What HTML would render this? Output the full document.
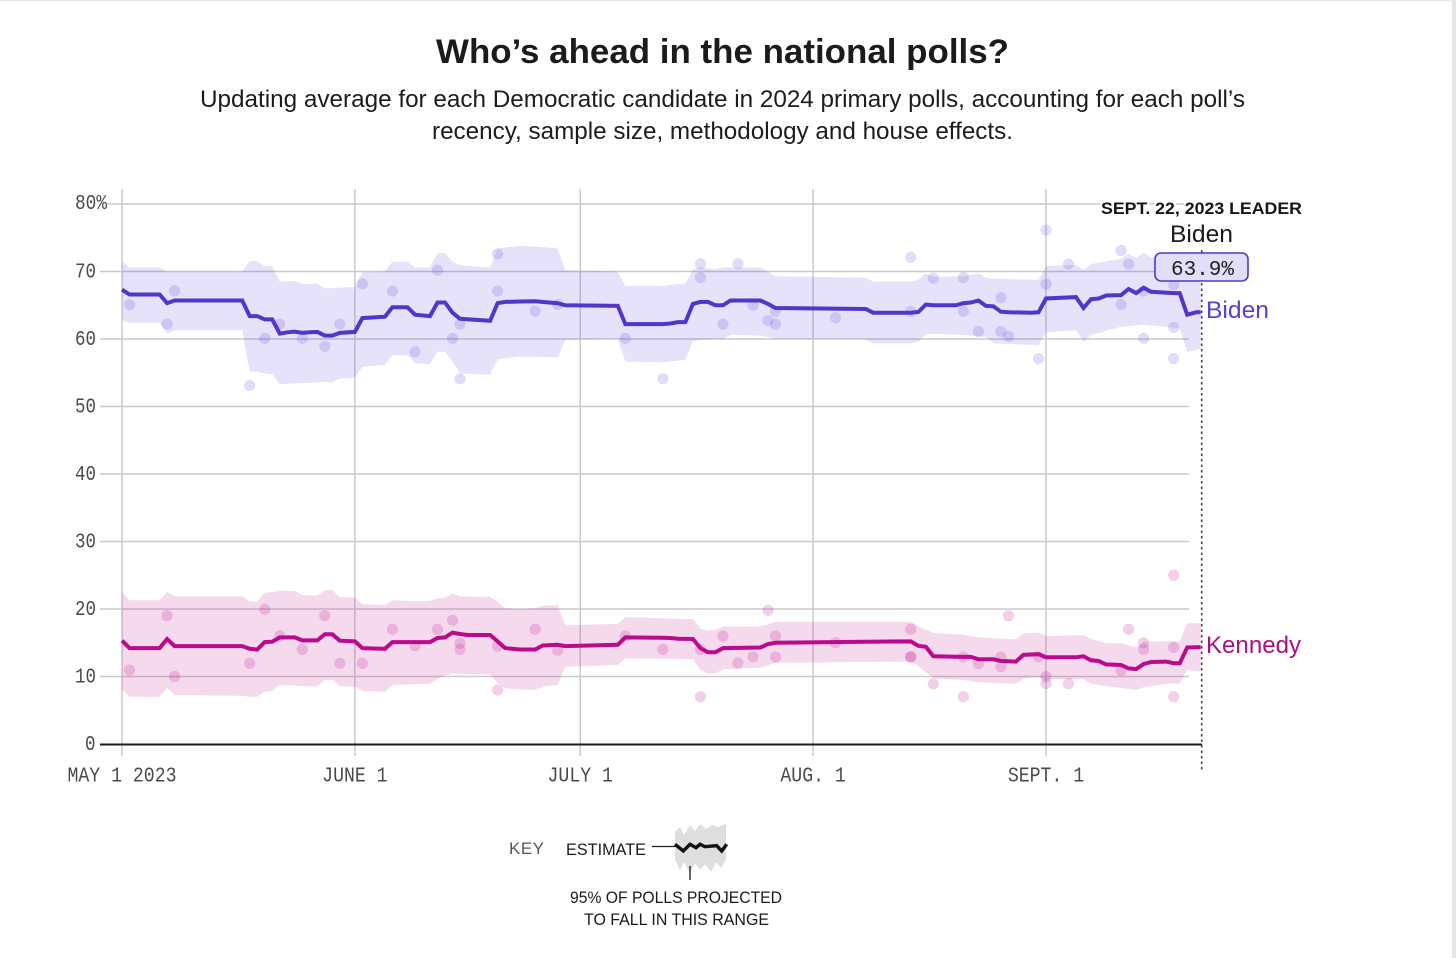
<!DOCTYPE html>
<html lang="en">
<head>
<meta charset="utf-8">
<title>Who's ahead in the national polls?</title>
<style>
html,body{margin:0;padding:0;background:#fff}
body{width:1456px;height:958px;overflow:hidden}
svg{display:block}
text{font-family:"Liberation Sans",sans-serif}
.mono{font-family:"Liberation Mono",monospace;font-size:21px;fill:#4a4a4a}
</style>
</head>
<body>
<svg id="chart" xmlns="http://www.w3.org/2000/svg" width="1456" height="958" viewBox="0 0 1456 958">
<rect x="0" y="0" width="1456" height="958" fill="#fff"/>
<rect x="0" y="0" width="1456" height="1.5" fill="#e9e9e9"/>
<rect x="1452" y="0" width="4" height="958" fill="#e6e6e6"/>
<text x="722.5" y="63" text-anchor="middle" font-size="34" font-weight="700" fill="#1c1a1a" textLength="573" lengthAdjust="spacingAndGlyphs">Who’s ahead in the national polls?</text>
<text x="722.5" y="107" text-anchor="middle" font-size="24" fill="#1c1c1c" textLength="1045" lengthAdjust="spacingAndGlyphs">Updating average for each Democratic candidate in 2024 primary polls, accounting for each poll’s</text>
<text x="722.5" y="139" text-anchor="middle" font-size="24" fill="#1c1c1c" textLength="581" lengthAdjust="spacingAndGlyphs">recency, sample size, methodology and house effects.</text>
<g id="grid"></g>
<g id="bands"></g>
<g id="polls"></g>
<g id="lines"></g>
<g id="axes"></g>
<line x1="1201.7" x2="1201.7" y1="250" y2="770" stroke="#444" stroke-width="1.6" stroke-dasharray="2.5 3"/>
<text x="1101" y="214" font-size="17" font-weight="700" fill="#161616" stroke="#fff" stroke-width="4" paint-order="stroke" textLength="201" lengthAdjust="spacingAndGlyphs">SEPT. 22, 2023 LEADER</text>
<text x="1170" y="242" font-size="24" fill="#1a1a1a" textLength="63" lengthAdjust="spacingAndGlyphs">Biden</text>
<rect x="1155" y="253" width="93" height="28" rx="6" fill="#e3def7" stroke="#5237c8" stroke-width="1.6"/>
<text class="mono" x="1171" y="275" style="fill:#1f1f1f" textLength="63" lengthAdjust="spacingAndGlyphs">63.9%</text>
<text x="1206" y="318" font-size="24" fill="#5a3fd0" textLength="63" lengthAdjust="spacingAndGlyphs">Biden</text>
<text x="1206" y="653" font-size="24" fill="#ae0f80" textLength="95" lengthAdjust="spacingAndGlyphs">Kennedy</text>
<g>
<text x="509" y="854" font-size="17" fill="#555" textLength="35" lengthAdjust="spacing">KEY</text>
<text x="566" y="855" font-size="17" fill="#1a1a1a" textLength="80" lengthAdjust="spacingAndGlyphs">ESTIMATE</text>
<line x1="652" x2="675" y1="846.5" y2="846.5" stroke="#222" stroke-width="1.2"/>
<polygon fill="#dedede" points="675,832 680,827 684,835 690,825 695,831 700,824 706,829 712,825 718,827 726,824 726,860 721,868 716,862 711,872 705,864 700,870 695,863 690,873 684,862 680,870 675,860"/>
<polyline fill="none" stroke="#111" stroke-width="3.4" points="675,844.3 683.3,851 690,844.3 696,847.7 700,844.3 705,846.7 716.7,845.7 721.7,851 726.7,844.3"/>
<line x1="690" x2="690" y1="866" y2="880" stroke="#222" stroke-width="1.4"/>
<text x="570" y="903" font-size="17" fill="#1a1a1a" textLength="212" lengthAdjust="spacingAndGlyphs">95% OF POLLS PROJECTED</text>
<text x="584" y="925" font-size="17" fill="#1a1a1a" textLength="185" lengthAdjust="spacingAndGlyphs">TO FALL IN THIS RANGE</text>
</g>
</svg>
<script>
// Values: [day since May 1 2023, percent]
const yTicks = [10, 20, 30, 40, 50, 60, 70, 80];
const xTickDays = [0, 31, 61, 92, 123];
const xTickLabels = ["MAY 1 2023", "JUNE 1", "JULY 1", "AUG. 1", "SEPT. 1"];

const bidenAvg = [[0,67.3],[1,66.6],[5,66.6],[6,65.3],[7,65.7],[16,65.7],[17,63.4],[18,63.4],[19,62.9],[20,62.9],[21,60.8],[22,61],[23,61.1],[24,60.9],[25,61],[26,61.05],[27,60.5],[28,60.5],[29,60.9],[31,61.05],[32,63.1],[35,63.3],[36,64.7],[38,64.7],[39,63.6],[41,63.4],[42,65.4],[43,65.4],[44,63.9],[45,63],[49,62.7],[50,65.3],[51,65.5],[53,65.55],[55,65.6],[58,65.3],[59,65],[66,64.9],[67,62.2],[72,62.2],[73,62.3],[74,62.5],[75,62.5],[76,65.2],[77,65.5],[78,65.5],[79,65],[80,65],[81,65.7],[85,65.7],[86,65.2],[87,64.6],[99,64.45],[100,63.9],[105,63.9],[106,64],[107,65.1],[108,65],[111,65],[112,65.3],[113,65.4],[114,65.7],[115,64.9],[116,64.85],[117,64.05],[118,63.95],[121,63.9],[122,63.95],[123,66],[127,66.2],[128,64.6],[129,65.9],[130,66],[131,66.45],[133,66.5],[134,67.4],[135,66.8],[136,67.6],[137,67],[140,66.8],[140.8,66.8],[141.8,63.6],[143,63.95],[143.6,63.95]];
const bidenHigh = [[0,71.45],[1,70.6],[5,70.6],[6,70],[16,70],[17,71.55],[18,71.55],[19,70.8],[20,70.8],[21,68.5],[23,68.6],[24,68.15],[26,68.2],[27,67.5],[31,67.7],[32,69.9],[35,70],[36,71.45],[38,71.45],[39,70.6],[41,70.6],[42,72.75],[43,72.75],[44,71.45],[45,70.9],[49,70.6],[50,73.4],[53,73.8],[55,73.7],[58,73.4],[59,70.2],[66,70],[67,67.9],[72,67.85],[74,68.15],[75,68.2],[76,70.3],[77,70.65],[79,70.3],[80,70.6],[85,70.6],[87,69.3],[99,69.1],[100,68.5],[105,68.5],[106,68.8],[107,69.7],[108,69.2],[112,69.3],[114,69.7],[115,69.1],[116,68.9],[122,68.75],[123,70.8],[127,71],[128,70.2],[129,71.1],[133,71.9],[134,72.6],[135,72],[136,72.8],[137,72.1],[140.8,72],[141.8,70],[143.6,70]];
const bidenLow = [[0,62.8],[1,62.4],[5,62.4],[6,60.8],[7,61.3],[16,61.3],[17,55.15],[18,55.15],[19,54.9],[20,54.8],[21,53.3],[27,53.65],[28,53.6],[29,54.1],[31,54.3],[32,55.9],[35,56.15],[36,57.6],[38,57.6],[39,56.4],[41,56.3],[42,58.1],[43,58.1],[44,56.65],[45,54.9],[49,54.7],[50,57],[53,57.4],[58,57.3],[59,59.85],[66,60],[67,56.65],[72,56.55],[75,56.9],[76,59.75],[79,60],[80,59.95],[81,60.6],[85,60.5],[87,60],[99,59.95],[100,59.35],[105,59.35],[106,59.6],[107,60.7],[108,60.75],[112,60.6],[115,60.3],[116,59.35],[122,59.1],[123,61],[127,61.3],[128,59.6],[129,60.6],[133,61.8],[136,62.1],[140.8,61.6],[141.8,58.1],[143.6,58.5]];
const bidenPolls = [[1,65.1],[7,67.15],[6,62.2],[17,53.1],[19,60.1],[21,62.2],[24,60.1],[27,58.9],[29,62.2],[32,68.15],[36,67.1],[39,58.1],[42,70.2],[44,60.1],[45,62.2],[45,54.1],[50,72.6],[50,67.1],[55,64.1],[58,65.1],[67,60.1],[72,54.1],[77,71.15],[77,69.1],[80,62.2],[82,71.15],[84,65],[86,62.75],[87,64.1],[87,62.2],[95,63.15],[105,72.1],[105,64.1],[108,69],[112,69.1],[112,64.1],[114,61.1],[117,66.1],[117,61.1],[118,60.4],[122,57.1],[123,76.15],[123,68.15],[126,71.1],[133,73.1],[134,71.1],[133,65.1],[136,67.1],[136,60.1],[140,68],[140,61.7],[140,57.1]];

const kennedyAvg = [[0,15.3],[1,14.2],[5,14.2],[6,15.55],[7,14.5],[16,14.5],[17,14.1],[18,14],[19,15.1],[20,15.15],[21,15.8],[23,15.8],[24,15.35],[26,15.35],[27,16.25],[28,16.25],[29,15.3],[31,15.2],[32,14.2],[35,14.1],[36,15.1],[41,15.1],[42,15.7],[43,15.8],[44,16.5],[45,16.3],[46,16.15],[49,16.15],[50,15.2],[51,14.2],[53,14],[55,14],[56,14.6],[58,14.7],[59,14.5],[66,14.7],[67,15.8],[72,15.75],[73,15.7],[74,15.6],[76,15.55],[77,14.2],[78,13.6],[79,13.6],[80,14.2],[85,14.3],[86,14.8],[87,15],[99,15.15],[105,15.2],[106,14.55],[107,14.4],[108,13],[112,12.9],[113,12.9],[114,12.55],[116,12.55],[117,12.3],[118,12.25],[119,12.2],[120,13.2],[122,13.3],[123,12.85],[127,12.85],[128,13],[129,12.4],[130,12.3],[131,11.8],[133,11.7],[134,11.2],[135,11.1],[136,11.85],[137,12.15],[139,12.2],[140,11.95],[140.8,11.95],[141.8,14.3],[143.6,14.35]];
const kennedyHigh = [[0,22.55],[1,21.3],[5,21.3],[6,22.5],[7,21.9],[16,21.9],[17,21.1],[18,21.1],[19,22.4],[20,22.5],[21,22.7],[23,22.7],[24,22.05],[26,22],[27,22.8],[28,22.8],[29,21.8],[31,21.7],[32,20.7],[35,20.6],[36,21.3],[38,21.2],[39,21.15],[41,21.2],[42,21.6],[43,21.65],[44,22.3],[45,21.9],[49,21.8],[50,21.1],[51,20.1],[53,20],[55,20.1],[56,20.5],[58,20.6],[59,17.6],[66,17.8],[67,18.8],[75,18.5],[76,18.5],[77,17.1],[78,16.8],[79,16.9],[80,17.4],[85,17.4],[87,18.1],[105,18.1],[106,17.4],[108,16.45],[112,16.2],[114,15.8],[119,15.5],[120,16.4],[122,16.5],[123,16],[128,16.1],[129,15.55],[131,14.9],[133,14.9],[135,14.3],[136,15.15],[140,15.25],[140.8,15.15],[141.8,17.9],[143.6,17.9]];
const kennedyLow = [[0,8.1],[1,7],[5,7],[6,8.35],[7,7.25],[16,7.15],[17,7],[18,7],[19,7.75],[20,7.85],[21,8.75],[24,8.6],[26,8.5],[27,9.5],[28,9.5],[29,8.6],[31,8.5],[32,7.85],[35,7.75],[36,8.75],[41,8.9],[42,9.7],[44,10.45],[49,10.3],[50,9],[51,8.25],[53,8.1],[55,8],[56,8.5],[58,8.75],[59,11.45],[66,11.7],[67,12.7],[75,12.6],[76,12.55],[77,10.95],[78,10.45],[79,10.45],[80,11.05],[85,11.3],[87,12.05],[105,12.2],[106,11.55],[108,9.7],[112,9.5],[114,9.15],[119,8.9],[120,9.7],[122,9.9],[123,9.6],[128,9.6],[129,8.9],[131,8.6],[135,8],[136,8.4],[139,8.9],[140.8,9],[141.8,11],[143.6,10.7]];
const kennedyPolls = [[1,10.95],[6,19],[7,10],[17,11.95],[19,19.95],[21,16],[24,14],[27,19],[29,11.95],[32,11.95],[36,17],[39,14.55],[42,17],[44,18.3],[45,14.9],[45,14],[50,14.5],[50,8],[55,17],[58,13.9],[67,16],[72,14],[77,14],[77,7],[80,16],[82,12],[84,12.9],[86,19.8],[87,16],[87,12.9],[95,15],[105,17],[105,12.9],[105,12.9],[108,8.9],[112,12.9],[112,7],[114,11.9],[117,12.9],[117,11.45],[118,19],[122,12.9],[123,10],[123,8.95],[126,8.95],[133,10.9],[134,17],[136,15],[136,14],[140,14.3],[140,25],[140,7]];

const NS = 'http://www.w3.org/2000/svg';
function xScale(day) { return 122 + day * 7.512; }
function yScale(v) { return 744 - v * 6.75; }
function make(tag, parent, attrs) {
  const el = document.createElementNS(NS, tag);
  for (const k in attrs) el.setAttribute(k, attrs[k]);
  parent.appendChild(el);
  return el;
}
const gridG = document.getElementById('grid');
const bandsG = document.getElementById('bands');
const pollsG = document.getElementById('polls');
const linesG = document.getElementById('lines');
const axesG = document.getElementById('axes');

yTicks.forEach(function (t) {
  const gl = make('line', gridG, {x1: t === 80 ? 108 : 100, x2: 1189, y1: yScale(t), y2: yScale(t), stroke: '#cbc9cd', 'stroke-width': 1.4});
  
  
  const lab = make('text', axesG, {class: 'mono', x: 75, y: yScale(t) + (t === 80 ? 5 : 6), textLength: t === 80 ? 32 : 21, lengthAdjust: 'spacingAndGlyphs'});
  lab.textContent = t === 80 ? t + '%' : String(t);
  
  
});
xTickDays.forEach(function (d, i) {
  const gl = make('line', gridG, {x1: xScale(d), x2: xScale(d), y1: 189, y2: 756, stroke: '#cbc9cd', 'stroke-width': 1.5});
  
  
  const s = xTickLabels[i];
  const lab = make('text', axesG, {class: 'mono', x: xScale(d), y: 781.5, 'text-anchor': 'middle', textLength: s.length * 10.9, lengthAdjust: 'spacingAndGlyphs'});
  lab.textContent = s;
  
  
});
const zeroLab = make('text', axesG, {class: 'mono', x: 85, y: 750, textLength: 10.5, lengthAdjust: 'spacingAndGlyphs'});
zeroLab.textContent = '0';


const baseline = make('line', axesG, {x1: 100, x2: 1202, y1: 744.5, y2: 744.5, stroke: '#1b1b1b', 'stroke-width': 2});



function pts(arr) {
  return arr.map(function (p) { return xScale(p[0]).toFixed(1) + ',' + yScale(p[1]).toFixed(1); }).join(' ');
}
function drawBand(high, low, fill) {
  const poly = make('polygon', bandsG, {points: pts(high) + ' ' + pts(low.slice().reverse()), fill: fill});
  return poly;
}
function drawLine(avg, color) {
  const l = make('polyline', linesG, {points: pts(avg), fill: 'none', stroke: color, 'stroke-width': 4, 'stroke-linejoin': 'miter'});
  return l;
}
function drawPolls(polls, fill, name) {
  polls.forEach(function (p) {
    const c = make('circle', pollsG, {cx: xScale(p[0]), cy: yScale(p[1]), r: 5.6, fill: fill});
    
    
  });
}
const bb = drawBand(bidenHigh, bidenLow, 'rgba(90,62,215,0.15)');


const kb = drawBand(kennedyHigh, kennedyLow, 'rgba(190,20,145,0.16)');


drawPolls(bidenPolls, 'rgba(90,62,215,0.18)', 'biden-poll-point');
drawPolls(kennedyPolls, 'rgba(190,20,145,0.2)', 'kennedy-poll-point');
const bl = drawLine(bidenAvg, '#5336c9');


const kl = drawLine(kennedyAvg, '#bb0a8c');


</script>
</body>
</html>
